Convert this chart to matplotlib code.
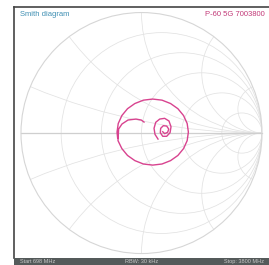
import numpy as np
import matplotlib
matplotlib.use('Agg')
import matplotlib.pyplot as plt
from matplotlib.patches import Circle

plt.rcParams['font.family'] = ['Liberation Sans', 'DejaVu Sans']

# grid values of the smith chart
r_vals = [0.2, 0.5, 1, 2, 5]
x_vals = [0.2, 0.5, 1, 2, 5]

# reflection coefficient trace (real, imag), outer part
outer_re = [0.021, -0.002, -0.046, -0.112, -0.162, -0.190, -0.195,
            -0.163, -0.116, -0.055, 0.016, 0.093, 0.170, 0.241, 0.302, 0.349, 0.379, 0.389,
            0.379, 0.349, 0.302, 0.241, 0.170, 0.093, 0.016, -0.055, -0.116, -0.163, -0.193,
            -0.203, -0.198]
outer_im = [0.091, 0.108, 0.116, 0.108, 0.075, 0.033, -0.063,
            -0.129, -0.186, -0.229, -0.257, -0.266, -0.257, -0.229, -0.186, -0.129, -0.063, 0.008,
            0.079, 0.145, 0.202, 0.245, 0.273, 0.282, 0.273, 0.245, 0.202, 0.145, 0.079,
            0.008, -0.040]
# inner spiral
inner_re = [0.137, 0.112, 0.104, 0.118, 0.151, 0.192, 0.228, 0.245, 0.237, 0.209,
            0.176, 0.156, 0.159, 0.181, 0.209, 0.226, 0.217, 0.192, 0.176]
inner_im = [-0.050, -0.011, 0.039, 0.089, 0.116, 0.122, 0.100, 0.052, 0.003, -0.027,
            -0.027, 0.003, 0.039, 0.061, 0.058, 0.033, 0.006, -0.005, 0.011]

title = 'Smith diagram'
device = 'P-60 5G 7003800'
footer = ['Start 698 MHz', 'RBW: 30 kHz', 'Stop: 3800 MHz']

fig = plt.figure(figsize=(2.69, 2.65), dpi=100)
ax = fig.add_axes([14/269, 7/265, 1 - 14/269, 251/265])
ax.set_xlim(-1.058, 1.058)
ax.set_ylim(-1.037, 1.046)
ax.set_xticks([])
ax.set_yticks([])
for s in ['right', 'bottom']:
    ax.spines[s].set_visible(False)
for s in ['left', 'top']:
    ax.spines[s].set_color('#444444')
    ax.spines[s].set_linewidth(1.2)

grid_c = '#e2e2e2'
unit = Circle((0, 0), 1, fill=False, ec='#d6d6d6', lw=0.8, zorder=2)
ax.add_patch(unit)
clip = Circle((0, 0), 1, transform=ax.transData)

for r in r_vals:
    c = Circle((r / (1 + r), 0), 1 / (1 + r), fill=False, ec=grid_c, lw=0.55, zorder=1)
    ax.add_patch(c)
    c.set_clip_path(clip)
for x in x_vals:
    for sgn in [1, -1]:
        c = Circle((1, sgn / x), 1 / x, fill=False, ec=grid_c, lw=0.55, zorder=1)
        ax.add_patch(c)
        c.set_clip_path(clip)
ax.plot([-1, 1], [0, 0], color='#cfcfcf', lw=0.9, zorder=1)

ax.plot(outer_re, outer_im, color='#d8438f', lw=1.0, solid_joinstyle='round', zorder=3)
ax.plot(inner_re, inner_im, color='#d8438f', lw=1.0, solid_joinstyle='round', zorder=3)

ax.text(0.022, 0.985, title, transform=ax.transAxes, ha='left', va='top',
        fontsize=5.5, color='#3f8fb3')
ax.text(0.985, 0.985, device, transform=ax.transAxes, ha='right', va='top',
        fontsize=5.5, color='#c23a78')

# footer bar
bar = fig.add_axes([14/269, 0, 1 - 14/269, 7/265])
bar.set_facecolor('#545a5a')
bar.set_xticks([])
bar.set_yticks([])
for s in bar.spines.values():
    s.set_visible(False)
bar.text(0.025, 0.45, footer[0], ha='left', va='center', fontsize=4, color='#c8c8c8')
bar.text(0.5, 0.45, footer[1], ha='center', va='center', fontsize=4, color='#c8c8c8')
bar.text(0.98, 0.45, footer[2], ha='right', va='center', fontsize=4, color='#c8c8c8')

fig.savefig('out.png', dpi=100)
